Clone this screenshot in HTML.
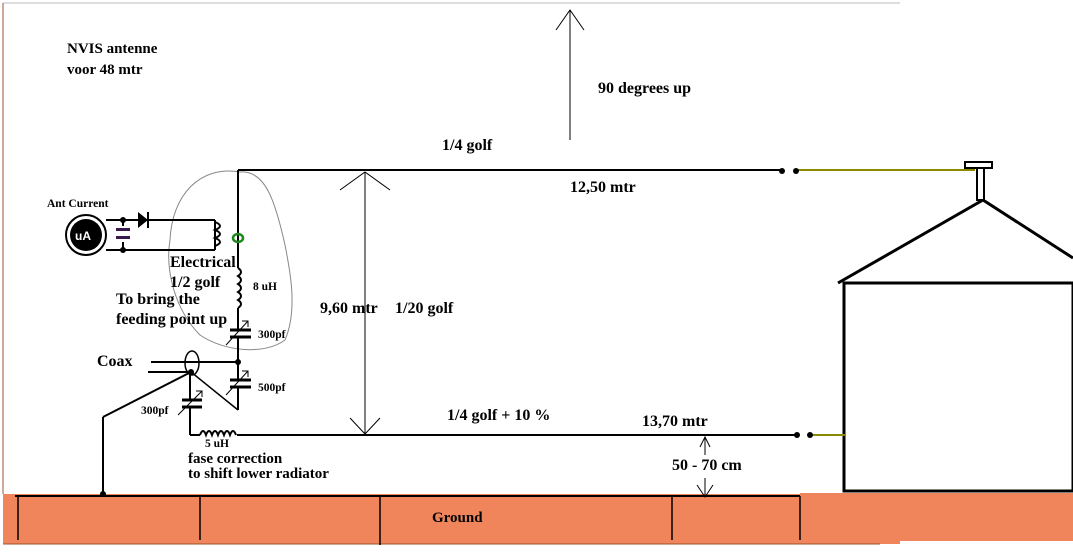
<!DOCTYPE html>
<html><head><style>
body{margin:0;background:#fff}
svg{display:block}
text{font-family:"Liberation Serif",serif;font-weight:bold;fill:#000}
</style></head><body>
<svg width="1073" height="554" viewBox="0 0 1073 554" xmlns="http://www.w3.org/2000/svg">
<rect width="1073" height="554" fill="#fff"/>
<line x1="3" y1="3" x2="900" y2="3" stroke="#bbb" stroke-width="1"/>
<line x1="3" y1="3" x2="3" y2="494" stroke="#a0522d" stroke-width="1"/>
<rect x="3" y="494" width="897" height="50" fill="#f0845a"/>
<rect x="800" y="493" width="273" height="48" fill="#f0845a"/>
<line x1="3" y1="544" x2="880" y2="544" stroke="#a0522d" stroke-width="1"/>
<line x1="15" y1="496" x2="800" y2="496" stroke="#000" stroke-width="2"/>
<g stroke="#000" stroke-width="1.5">
<line x1="18" y1="496" x2="18" y2="540"/>
<line x1="200" y1="496" x2="200" y2="540"/>
<line x1="380" y1="496" x2="380" y2="545"/>
<line x1="672" y1="496" x2="672" y2="540"/>
<line x1="800" y1="496" x2="800" y2="540"/>
</g>
<text x="432" y="522" font-size="15">Ground</text>
<g stroke="#000" stroke-width="3" fill="none">
<rect x="844" y="283" width="229" height="208"/>
<polyline points="838,283 983,200 1073,258"/>
</g>
<rect x="965" y="162" width="27" height="6" fill="#fff" stroke="#000" stroke-width="2"/>
<rect x="977" y="168" width="7" height="32" fill="#fff" stroke="#000" stroke-width="2"/>
<line x1="238" y1="170" x2="782" y2="170" stroke="#000" stroke-width="2"/>
<line x1="796" y1="170" x2="975" y2="170" stroke="#8a8a00" stroke-width="2"/>
<circle cx="782" cy="171" r="3"/><circle cx="796" cy="171" r="3"/>
<line x1="237" y1="435" x2="797" y2="435" stroke="#000" stroke-width="2"/>
<line x1="810" y1="435" x2="846" y2="435" stroke="#8a8a00" stroke-width="2"/>
<circle cx="797" cy="435" r="3"/><circle cx="810" cy="435" r="3"/>
<g stroke="#000" stroke-width="1" fill="none">
<line x1="570" y1="10" x2="570" y2="140"/>
<polyline points="556,30 570,10 584,30"/>
<line x1="365" y1="172" x2="365" y2="434"/>
<polyline points="340,190 365,172 390,190"/>
<polyline points="350,418 365,434 380,418"/>
<line x1="705" y1="437" x2="705" y2="455"/>
<polyline points="700,447 705,437 710,447"/>
<line x1="705" y1="478" x2="705" y2="497"/>
<polyline points="697,485 705,497 713,485"/>
</g>
<path d="M240,172 C200,165 172,195 170,240 C165,270 175,310 200,335 C225,352 265,355 285,340 C298,310 290,270 285,245 C275,200 265,170 240,172 Z" fill="none" stroke="#888" stroke-width="1"/>
<g stroke="#000" stroke-width="2" fill="none">
<line x1="238" y1="170" x2="238" y2="268"/>
<path d="M238,268 q6,4 0,8 q6,4 0,8 q6,4 0,8 q6,4 0,8 q6,4 0,8"/>
<line x1="238" y1="308" x2="238" y2="330"/>
<line x1="230" y1="330" x2="251" y2="330" stroke-width="3"/>
<line x1="230" y1="337" x2="251" y2="337" stroke-width="3"/>
<line x1="238" y1="337" x2="238" y2="380"/>
<line x1="230" y1="380" x2="251" y2="380" stroke-width="3"/>
<line x1="230" y1="387" x2="251" y2="387" stroke-width="3"/>
<line x1="238" y1="387" x2="238" y2="410"/>
<line x1="238" y1="410" x2="191" y2="372" stroke-width="1.5"/>
<line x1="151" y1="362" x2="238" y2="362"/>
<line x1="148" y1="372" x2="191" y2="372"/>
<line x1="191" y1="372" x2="103" y2="417"/>
<line x1="103" y1="417" x2="103" y2="494"/>
<line x1="190" y1="372" x2="190" y2="400"/>
<line x1="182" y1="400" x2="202" y2="400" stroke-width="3"/>
<line x1="182" y1="407" x2="202" y2="407" stroke-width="3"/>
<line x1="190" y1="407" x2="190" y2="435"/>
<line x1="190" y1="435" x2="200" y2="435"/>
<path d="M200,435 q3,-8 6,0 q3,-8 6,0 q3,-8 6,0 q3,-8 6,0 q3,-8 6,0 q3,-8 6,0"/>
</g>
<g stroke="#000" stroke-width="1" fill="none">
<line x1="226" y1="345" x2="248" y2="321"/><polyline points="242,321 248,321 248,327"/>
<line x1="226" y1="395" x2="248" y2="371"/><polyline points="242,371 248,371 248,377"/>
<line x1="178" y1="415" x2="202" y2="391"/><polyline points="196,391 202,391 202,397"/>
</g>
<ellipse cx="192" cy="363" rx="7" ry="12" fill="none" stroke="#000" stroke-width="1.5"/>
<circle cx="238" cy="362" r="3"/><circle cx="191" cy="372" r="3"/><circle cx="103" cy="494" r="3"/>
<ellipse cx="238" cy="238" rx="5" ry="4" fill="none" stroke="#1a8a1a" stroke-width="2.5"/>
<g stroke="#000" stroke-width="2" fill="none">
<circle cx="86" cy="235" r="20"/>
<line x1="106" y1="220" x2="215" y2="220"/>
<line x1="106" y1="250" x2="215" y2="250"/>
<line x1="215" y1="220" x2="215" y2="250"/>
<path d="M215,222 q10,4 0,8 q10,4 0,8 q10,4 0,8"/>
<line x1="123" y1="220" x2="123" y2="226"/><line x1="123" y1="242" x2="123" y2="250"/>
<line x1="148" y1="212" x2="148" y2="228"/>
</g>
<circle cx="86" cy="235" r="16" fill="#000"/>
<text x="75" y="240" font-size="12" style="fill:#fff;font-family:'Liberation Sans',sans-serif">uA</text>
<polygon points="138,212 138,228 148,220"/>
<rect x="116" y="228" width="14" height="3" fill="#3a1a4a"/>
<rect x="116" y="236" width="14" height="3" fill="#3a1a4a"/>
<circle cx="123" cy="220" r="3"/><circle cx="123" cy="250" r="3"/>
<text x="67" y="53" font-size="15">NVIS antenne</text>
<text x="67" y="74" font-size="15">voor 48 mtr</text>
<text x="598" y="93" font-size="16">90 degrees up</text>
<text x="442" y="150" font-size="16">1/4 golf</text>
<text x="570" y="192" font-size="16">12,50 mtr</text>
<text x="47" y="207" font-size="11.5">Ant Current</text>
<text x="170" y="267" font-size="16">Electrical</text>
<text x="170" y="287" font-size="16">1/2 golf</text>
<text x="116" y="304" font-size="16">To bring the</text>
<text x="116" y="324" font-size="16">feeding point up</text>
<text x="253" y="290" font-size="11.5">8 uH</text>
<text x="258" y="338" font-size="11.5">300pf</text>
<text x="258" y="391" font-size="11.5">500pf</text>
<text x="141" y="414" font-size="11.5">300pf</text>
<text x="97" y="366" font-size="16">Coax</text>
<text x="320" y="313" font-size="16">9,60 mtr</text>
<text x="395" y="313" font-size="16">1/20 golf</text>
<text x="447" y="420" font-size="16">1/4 golf + 10 %</text>
<text x="642" y="426" font-size="16">13,70 mtr</text>
<text x="205" y="447" font-size="11.5">5 uH</text>
<text x="188" y="463" font-size="15">fase correction</text>
<text x="188" y="478" font-size="15">to shift lower radiator</text>
<text x="672" y="470" font-size="16">50 - 70 cm</text>
</svg>
</body></html>
